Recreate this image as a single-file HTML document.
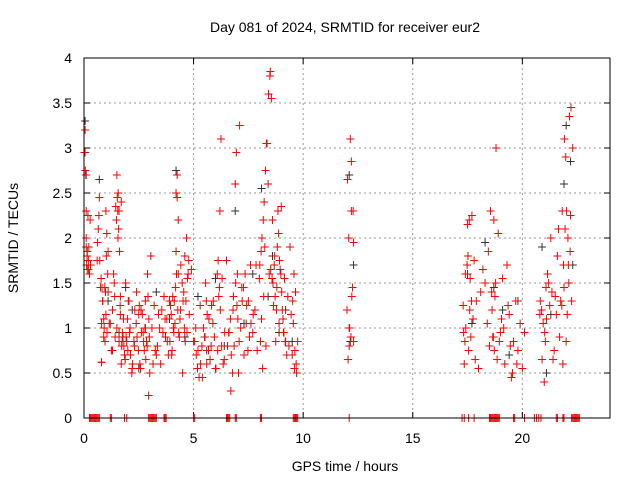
<!DOCTYPE html>
<html><head><meta charset="utf-8"><style>
body{margin:0;background:#fff;}
svg text{font-family:"Liberation Sans",sans-serif;font-size:14px;fill:#000;}
</style></head><body>
<svg id="chart" width="640" height="480" viewBox="0 0 640 480" xmlns="http://www.w3.org/2000/svg">
<rect width="640" height="480" fill="#fff"/>
<text x="345" y="32" text-anchor="middle">Day 081 of 2024, SRMTID for receiver eur2</text>
<text x="345" y="471" text-anchor="middle">GPS time / hours</text>
<text transform="translate(18,238) rotate(-90)" text-anchor="middle">SRMTID / TECUs</text>
<g id="grid"></g><g id="ticks"></g><g id="marks"></g>
<rect x="84" y="58" width="526" height="360" fill="none" stroke="#000" stroke-width="1"/>
</svg>
<script>
const xTicks=[0,5,10,15,20];
const yTicks=[0,0.5,1,1.5,2,2.5,3,3.5,4];
const yTickLabels=["0","0.5","1","1.5","2","2.5","3","3.5","4"];
const redHours=[0.05,0.05,0.08,0.1,0.1,0.12,0.15,0.15,0.18,0.2,0.25,0.3,
0.6,0.65,0.7,0.75,0.8,0.8,0.85,0.9,0.95,1.0,1.0,1.05,1.1,1.1,1.2,1.3,1.35,1.4,1.45,1.5,1.5,1.55,1.6,1.65,1.7,1.7,1.75,1.8,1.85,1.9,1.95,2.0,2.05,2.1,2.2,2.3,2.4,2.5,2.55,2.6,2.7,2.75,2.8,2.85,2.9,2.95,3.0,3.05,
3.1,3.2,3.3,3.4,3.5,3.6,3.7,3.8,3.9,4.0,4.05,4.1,4.15,4.2,4.2,4.25,4.3,4.35,4.4,4.5,4.55,4.6,4.65,4.7,4.75,4.8,4.9,5.0,5.1,5.2,5.3,5.4,5.5,5.55,5.6,5.7,5.8,5.9,6.0,6.1,6.15,6.2,6.25,6.3,6.4,6.5,6.6,6.7,6.8,6.85,6.9,6.95,7.0,7.05,7.1,7.2,7.3,7.4,7.5,7.6,7.7,7.8,7.9,8.0,8.05,8.1,8.15,8.2,8.25,8.3,8.35,8.4,8.45,8.5,8.55,8.6,8.65,8.7,8.75,8.8,8.85,8.9,8.95,9.0,9.05,9.1,9.15,9.2,9.3,9.4,9.5,9.55,9.6,9.65,9.7,9.75,
12.0,12.05,12.1,12.1,12.15,12.2,12.2,12.25,12.3,12.3,
17.3,17.35,17.4,17.5,17.55,17.6,17.65,17.7,17.8,17.9,18.0,18.2,18.4,18.5,18.6,18.65,18.7,18.75,18.8,18.9,19.0,19.1,19.2,19.3,19.4,19.5,19.6,19.7,19.8,19.9,20.0,20.1,
20.8,20.9,21.0,21.05,21.1,21.2,21.3,21.4,21.5,21.6,21.7,21.8,21.85,21.9,21.95,22.0,22.05,22.1,22.15,22.2,22.25,22.3];
const redValues=[3.2,2.95,2.7,2.3,1.9,1.7,1.85,1.65,2.25,1.75,1.6,1.7,
1.75,2.1,2.45,1.45,1.05,0.62,1.3,0.9,1.45,2.3,1.15,0.95,1.4,1.85,1.05,0.75,1.6,1.35,2.35,2.7,1.0,2.0,0.85,1.25,2.4,0.6,0.95,1.1,0.7,1.5,0.85,0.75,1.3,1.0,0.55,0.8,1.4,1.15,0.6,1.2,0.95,0.75,1.3,0.85,1.6,0.25,0.5,1.8,
1.0,1.25,0.7,1.15,0.6,0.95,1.1,0.85,1.3,0.7,1.35,0.95,1.05,2.5,1.85,2.7,1.6,0.9,1.2,0.5,1.4,1.8,1.3,0.95,1.6,1.15,1.65,0.85,1.0,0.75,1.25,0.45,0.9,1.5,0.6,1.1,0.8,1.3,0.55,0.75,1.35,2.3,3.1,1.55,0.65,1.75,0.95,0.3,1.2,0.8,2.6,2.95,1.6,0.5,3.25,1.45,0.7,1.05,1.3,1.7,0.95,1.2,0.75,1.55,0.85,1.1,0.55,1.35,1.9,0.8,3.05,2.6,1.6,3.85,3.55,2.2,1.25,1.8,0.85,1.45,2.3,1.05,1.65,2.35,1.2,0.95,1.55,0.85,1.35,1.9,0.7,1.05,0.55,1.4,0.5,0.85,1.2,0.65,0.8,1.0,
3.1,2.85,2.3,1.45,0.85,1.95,1.25,0.6,1.6,2.15,
0.75,1.2,0.9,2.25,1.75,1.3,0.55,1.65,1.05,0.8,1.4,0.9,2.2,1.35,3.0,2.05,0.95,1.55,0.6,1.7,1.15,0.45,0.85,1.3,0.75,1.05,0.55,0.95,1.15,0.65,0.4,0.85,
1.1,1.5,2.0,0.65,1.35,1.8,0.9,1.25,0.6,1.45,2.1,0.85,1.15,1.7,3.35,2.25,1.3,3.0,1.95,2.6,3.2,2.95];
// additional red readings as [hour, TECU] pairs
const redExtra=[[0.02,2.95],[0.06,2.75],[0.1,2.0],[0.14,1.8],[0.2,1.65],[0.22,1.9],[0.28,2.2],[0.3,1.7],
[0.62,1.95],[0.68,2.25],[0.72,1.75],[0.78,1.55],[0.82,1.45],[0.86,1.3],[0.9,1.1],[0.92,1.0],[0.96,0.85],[0.98,1.4],[1.02,1.8],[1.04,2.05],[1.08,1.6],
[1.15,1.05],[1.25,0.75],[1.3,1.2],[1.38,1.5],[1.42,0.9],[1.48,2.2],[1.52,2.45],[1.56,2.5],[1.6,2.3],[1.62,1.85],[1.66,1.15],[1.72,0.8],[1.74,0.85],[1.78,0.9],[1.66,1.35],[1.58,2.1],[1.54,2.3],
[1.82,0.8],[1.88,0.65],[1.92,0.9],[1.98,1.1],[2.02,1.3],[2.08,0.95],[2.12,0.7],[2.18,0.5],[2.22,0.6],[2.28,0.85],[2.32,1.2],[2.38,1.05],[2.42,0.9],[2.48,0.75],[2.52,1.25],[2.58,0.55],[2.62,0.95],[2.66,1.15],[2.72,0.85],[2.78,1.0],[2.82,0.65],[2.88,0.8],[2.92,1.35],[2.96,1.1],[2.98,0.9],
[3.15,0.6],[3.25,0.75],[3.35,0.8],[3.45,1.0],[3.55,1.2],[3.65,1.35],[3.72,0.9],[3.78,1.1],[3.85,0.7],[3.92,0.85],[3.98,1.15],[3.95,1.25],
[4.02,0.75],[4.08,1.0],[4.12,1.3],[4.18,1.45],[4.22,1.6],[4.28,1.2],[4.32,0.95],[4.38,1.1],[4.42,1.7],[4.48,1.5],[4.52,1.3],[4.58,1.0],[4.62,0.85],[4.68,2.0],[4.25,2.45],[4.3,2.2],[4.72,1.55],[4.78,1.75],
[5.05,0.85],[5.12,0.7],[5.18,0.55],[5.25,0.45],[5.32,0.6],[5.38,0.8],[5.45,1.0],[5.52,0.9],[5.58,1.3],[5.62,1.15],[5.68,0.75],[5.75,0.65],[5.82,1.25],[5.88,1.05],[5.95,0.9],[6.02,0.55],[6.08,1.6],[6.12,1.75],[6.18,1.45],[6.22,1.2],[6.28,0.8],[6.35,0.6],[6.42,0.95],
[6.55,0.8],[6.62,0.95],[6.68,1.1],[6.72,0.7],[6.78,0.5],[6.82,1.35],[6.92,1.5],[6.98,1.25],[7.02,1.1],[7.08,0.85],[7.15,1.0],[7.22,1.3],[7.28,1.45],[7.35,1.6],[7.42,1.25],[7.48,0.75],[7.55,0.9],[7.62,1.05],[7.72,1.15],[7.85,1.7],
[8.02,1.7],[8.08,1.85],[8.12,2.0],[8.18,2.2],[8.22,2.4],[8.28,2.75],[8.32,3.05],[8.42,3.6],[8.48,3.8],[8.52,1.65],[8.58,1.55],[8.62,1.5],[8.68,1.7],[8.72,1.35],[8.78,1.2],[8.82,1.9],[8.88,2.05],[8.92,1.75],[8.98,1.6],[9.02,1.4],[9.08,1.1],[9.12,0.95],[9.18,0.85],[9.25,0.7],[9.35,0.8],[9.45,1.15],[9.52,1.3],[9.58,1.6],[9.62,0.75],[9.68,0.6],
[12.02,2.65],[12.08,2.0],[12.12,1.0],[12.18,0.9],[12.22,1.35],[12.28,2.3],
[17.32,0.95],[17.38,0.85],[17.42,1.0],[17.48,1.7],[17.52,1.8],[17.58,2.2],[17.62,1.55],[17.68,1.3],[17.75,1.1],[17.85,0.65],[18.1,1.4],[18.3,1.5],[18.45,1.85],[18.55,2.3],[18.62,1.2],[18.68,0.9],[18.72,0.75],[18.78,1.5],[18.85,0.65],[18.95,0.85],[19.05,1.1],[19.15,1.0],[19.35,1.25],[19.45,0.8],[19.55,0.5],[19.75,0.6],
[20.82,1.3],[20.88,1.2],[20.95,1.05],[21.02,0.95],[21.08,1.45],[21.15,1.6],[21.25,1.25],[21.35,1.4],[21.45,0.75],[21.55,1.15],[21.65,2.1],[21.75,1.3],[21.82,2.3],[21.88,1.7],[21.92,3.1],[21.98,2.9],[22.02,2.3],[22.08,2.0],[22.12,1.5],[22.18,1.85],[22.22,3.45]];
const blackHours=[0.05,0.1,0.7,0.8,1.1,1.6,1.9,2.2,2.5,2.8,3.3,3.9,4.2,4.6,5.2,5.6,6.0,6.4,6.9,7.3,7.7,8.1,8.4,8.6,8.9,9.2,9.5,12.1,12.15,12.3,17.5,17.7,18.3,18.7,19.1,19.4,19.8,20.9,21.1,21.3,21.9,22.0,22.2,22.3];
const blackValues=[3.3,2.7,2.65,0.62,1.3,0.95,1.45,1.2,0.55,1.0,1.4,1.1,2.75,0.9,1.35,0.75,1.55,0.8,2.3,1.05,1.6,2.55,1.35,1.8,0.95,1.2,0.85,2.7,0.85,1.7,1.6,1.05,1.95,1.45,1.2,0.7,1.3,1.9,0.5,1.15,2.6,3.25,2.85,1.7];
const zeroHours=[0.25,0.3,0.35,0.4,0.45,0.5,0.55,0.6,0.65,0.7,1.2,1.25,1.85,1.95,2.95,3.0,3.05,3.1,3.15,3.2,3.25,3.3,3.65,3.7,3.75,5.0,5.05,6.5,6.55,6.6,6.65,6.9,6.95,8.05,8.1,9.55,9.6,9.65,9.7,9.75,12.1,17.25,17.35,17.55,17.8,18.5,18.55,18.6,18.65,18.7,18.75,18.8,18.85,18.9,18.95,19.6,19.65,20.1,20.55,20.65,20.75,20.85,21.55,21.6,21.85,21.9,22.25,22.3,22.35,22.4,22.45,22.5,22.55,22.6];
const X=h=>84+h*(526/24), Y=v=>418-v*90;
const NS="http://www.w3.org/2000/svg";
function mk(tag,attrs,parent){const e=document.createElementNS(NS,tag);for(const k in attrs)e.setAttribute(k,attrs[k]);parent.appendChild(e);return e;}
const grid=document.getElementById('grid'),ticks=document.getElementById('ticks'),marks=document.getElementById('marks');
xTicks.forEach(t=>{const x=X(t);
 if(t>0){const g=mk('line',{x1:x,x2:x,y1:58,y2:418,stroke:'#999','stroke-dasharray':'2,3'},grid);
 
 }
 const tx=mk('text',{x:x,y:443,'text-anchor':'middle'},ticks);tx.textContent=t;
 
 
 mk('line',{x1:x,x2:x,y1:418,y2:412,stroke:'#000'},ticks);mk('line',{x1:x,x2:x,y1:58,y2:64,stroke:'#000'},ticks);});
yTicks.forEach((t,i)=>{const y=Y(t);
 if(t>0&&t<4){const g=mk('line',{x1:84,x2:610,y1:y,y2:y,stroke:'#999','stroke-dasharray':'2,3'},grid);
 
 }
 const tx=mk('text',{x:72,y:y+5,'text-anchor':'end'},ticks);tx.textContent=yTickLabels[i];
 
 
 mk('line',{x1:84,x2:90,y1:y,y2:y,stroke:'#000'},ticks);mk('line',{x1:610,x2:604,y1:y,y2:y,stroke:'#000'},ticks);});
function plus(h,v,c,name){const x=X(h),y=Y(v);
 const p=mk('path',{d:`M${x-4} ${y}H${x+4}M${x} ${y-4}V${y+4}`,stroke:c,'stroke-width':1,fill:'none'},marks);
 
 }
blackHours.forEach((h,i)=>plus(h,blackValues[i],'#333','black-point'));
redHours.forEach((h,i)=>plus(h,redValues[i],'#f00','red-point'));
redExtra.forEach(p=>plus(p[0],p[1],'#f00','red-point'));
zeroHours.forEach(h=>plus(h,0,'#f00','zero-point'));
</script>
</body></html>
